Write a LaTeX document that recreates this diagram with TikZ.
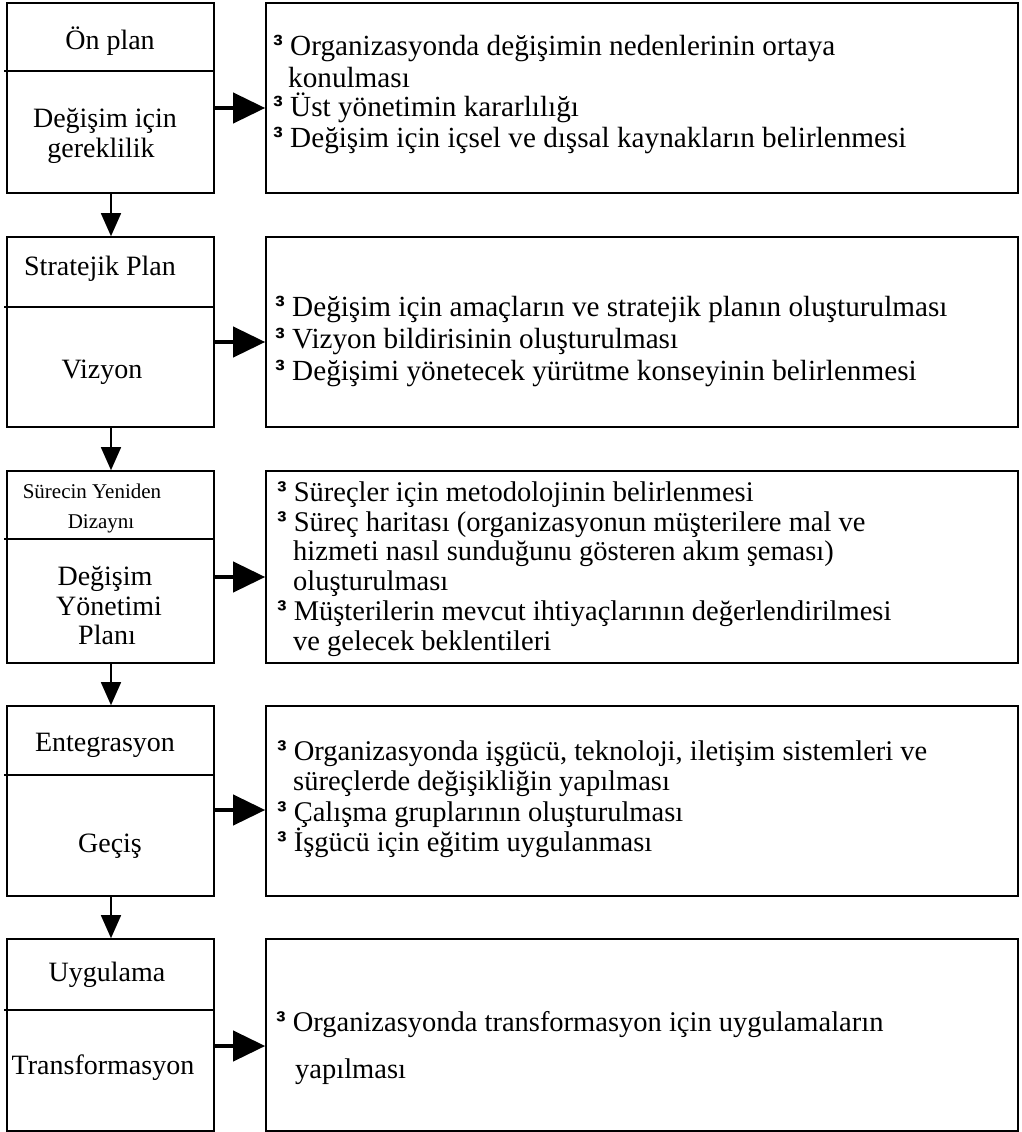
\documentclass[tikz,border=0pt]{standalone}
\usepackage{fontspec}
\setmainfont{Liberation Serif}
\newfontfamily\bulletfont{Liberation Sans}
\usetikzlibrary{arrows.meta}
\newcommand{\bul}{{\bulletfont\bfseries ³}\ }
\begin{document}
\begin{tikzpicture}[x=1pt,y=-1pt,
  box/.style={draw,line width=1.6pt,rectangle,inner sep=0pt},
  lt/.style={anchor=base,inner sep=0pt,font=\fontsize{28}{30}\selectfont},
  st/.style={anchor=base,inner sep=0pt,font=\fontsize{21}{24}\selectfont},
  rt/.style={anchor=base west,inner sep=0pt,font=\fontsize{28.5}{30}\selectfont},
  rtb/.style={anchor=base west,inner sep=0pt,font=\fontsize{29.2}{30}\selectfont},
  harrow/.style={line width=4pt,-{Triangle[length=32pt,width=30pt]}},
  varrow/.style={line width=1.5pt,-{Triangle[length=23pt,width=20pt]}},
  divider/.style={line width=1.6pt}]
\useasboundingbox (0,0) rectangle (1021,1132);
% left boxes
\node[box,minimum width=207pt,minimum height=190pt] (L1) at (110.5,98) {};
\node[box,minimum width=207pt,minimum height=190pt] (L2) at (110.5,332) {};
\node[box,minimum width=207pt,minimum height=192pt] (L3) at (110.5,567) {};
\node[box,minimum width=207pt,minimum height=190pt] (L4) at (110.5,801) {};
\node[box,minimum width=207pt,minimum height=192pt] (L5) at (110.5,1035) {};
% right boxes
\node[box,minimum width=752pt,minimum height=190pt] (R1) at (642,98) {};
\node[box,minimum width=752pt,minimum height=190pt] (R2) at (642,332) {};
\node[box,minimum width=752pt,minimum height=192pt] (R3) at (642,567) {};
\node[box,minimum width=752pt,minimum height=190pt] (R4) at (642,801) {};
\node[box,minimum width=752pt,minimum height=192pt] (R5) at (642,1035) {};
% dividers
\coordinate (d1) at (4,71);   \draw[divider] (d1) -- (d1 -| L1.east);
\coordinate (d2) at (4,307);  \draw[divider] (d2) -- (d2 -| L2.east);
\coordinate (d3) at (4,539);  \draw[divider] (d3) -- (d3 -| L3.east);
\coordinate (d4) at (4,775);  \draw[divider] (d4) -- (d4 -| L4.east);
\coordinate (d5) at (4,1010); \draw[divider] (d5) -- (d5 -| L5.east);
% horizontal arrows
\coordinate (h1) at (214,108);  \draw[harrow] (h1) -- (h1 -| R1.west);
\coordinate (h2) at (214,342);  \draw[harrow] (h2) -- (h2 -| R2.west);
\coordinate (h3) at (214,577);  \draw[harrow] (h3) -- (h3 -| R3.west);
\coordinate (h4) at (214,810);  \draw[harrow] (h4) -- (h4 -| R4.west);
\coordinate (h5) at (214,1046); \draw[harrow] (h5) -- (h5 -| R5.west);
% vertical arrows
\coordinate (v1) at (111,193); \draw[varrow] (v1) -- (v1 |- L2.north);
\coordinate (v2) at (111,427); \draw[varrow] (v2) -- (v2 |- L3.north);
\coordinate (v3) at (111,663); \draw[varrow] (v3) -- (v3 |- L4.north);
\coordinate (v4) at (111,896); \draw[varrow] (v4) -- (v4 |- L5.north);
% left texts
\node[lt] (t1a) at (110,50) {Ön plan};
\node[lt] (t1b) at (105,127) {Değişim için};
\node[lt] (t1c) at (101,157) {gereklilik};
\node[lt] (t2a) at (100,275) {Stratejik Plan};
\node[lt] (t2b) at (102,378) {Vizyon};
\node[st] (t3a) at (92,498) {Sürecin Yeniden};
\node[st] (t3b) at (101,528) {Dizaynı};
\node[lt] (t3c) at (105,585) {Değişim};
\node[lt] (t3d) at (109,615) {Yönetimi};
\node[lt] (t3e) at (107,644) {Planı};
\node[lt] (t4a) at (105,751) {Entegrasyon};
\node[lt] (t4b) at (110,852) {Geçiş};
\node[lt] (t5a) at (107,981) {Uygulama};
\node[lt] (t5b) at (103,1074) {Transformasyon};
% right texts
\node[rtb] (r1a) at (273,56) {\bul Organizasyonda değişimin nedenlerinin ortaya};
\node[rtb] (r1b) at (288,87) {konulması};
\node[rtb] (r1c) at (273,116) {\bul Üst yönetimin kararlılığı};
\node[rtb] (r1d) at (273,147) {\bul Değişim için içsel ve dışsal kaynakların belirlenmesi};
\node[rtb] (r2a) at (275,316) {\bul Değişim için amaçların ve stratejik planın oluşturulması};
\node[rtb] (r2b) at (275,348) {\bul Vizyon bildirisinin oluşturulması};
\node[rtb] (r2c) at (275,380) {\bul Değişimi yönetecek yürütme konseyinin belirlenmesi};
\node[rt] (r3a) at (277,501) {\bul Süreçler için metodolojinin belirlenmesi};
\node[rt] (r3b) at (277,531) {\bul Süreç haritası (organizasyonun müşterilere mal ve};
\node[rt] (r3c) at (293,560) {hizmeti nasıl sunduğunu gösteren akım şeması)};
\node[rt] (r3d) at (293,590) {oluşturulması};
\node[rt] (r3e) at (277,620) {\bul Müşterilerin mevcut ihtiyaçlarının değerlendirilmesi};
\node[rt] (r3f) at (293,650) {ve gelecek beklentileri};
\node[rt] (r4a) at (277,760) {\bul Organizasyonda işgücü, teknoloji, iletişim sistemleri ve};
\node[rt] (r4b) at (293,790) {süreçlerde değişikliğin yapılması};
\node[rt] (r4c) at (277,821) {\bul Çalışma gruplarının oluşturulması};
\node[rt] (r4d) at (277,851) {\bul İşgücü için eğitim uygulanması};
\node[rt] (r5a) at (276,1031) {\bul Organizasyonda transformasyon için uygulamaların};
\node[rt] (r5b) at (295,1078) {yapılması};
\end{tikzpicture}
\end{document}
